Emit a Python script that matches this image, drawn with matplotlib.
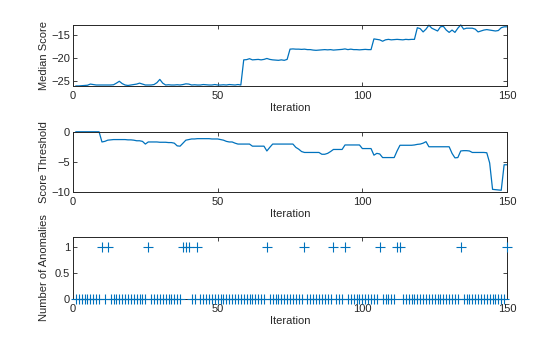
import numpy as np
import matplotlib.pyplot as plt

plt.rcParams["font.family"] = ["Liberation Sans", "DejaVu Sans"]

iterations = np.arange(1, 151)

median_score = [
    -26.0, -26.0, -25.95, -25.9, -25.85, -25.6, -25.7, -25.8, -25.8, -25.8,
    -25.8, -25.8, -25.8, -25.75, -25.4, -25.0, -25.5, -25.8, -25.9, -25.8,
    -25.7, -25.6, -25.4, -25.6, -25.8, -25.8, -25.8, -25.7, -25.3, -24.6,
    -25.4, -25.8, -25.75, -25.8, -25.8, -25.75, -25.8, -25.7, -25.55, -25.6,
    -25.8, -25.75, -25.8, -25.8, -25.7, -25.75, -25.8, -25.8, -25.7, -25.8,
    -25.8, -25.75, -25.8, -25.7, -25.75, -25.8, -25.7, -25.8,
    -20.4, -20.35, -20.15, -20.4, -20.35, -20.3, -20.4, -20.3, -20.1, -20.3,
    -20.4, -20.45, -20.5, -20.4, -20.5, -20.3,
    -18.1, -18.05, -18.1, -18.1, -18.15, -18.1, -18.2, -18.2, -18.3, -18.35,
    -18.3, -18.25, -18.2, -18.25, -18.2, -18.3, -18.25, -18.2, -18.15, -18.05,
    -18.2, -18.1, -18.2, -18.2, -18.25, -18.2, -18.15, -18.2, -18.2,
    -15.9, -16.0, -16.1, -16.4, -16.1, -16.0, -16.1, -16.05, -16.0, -16.05,
    -16.1, -16.0, -16.05, -16.0, -16.0,
    -13.5, -13.7, -14.4, -13.8, -12.95, -13.6, -13.9, -14.2, -13.3, -13.2,
    -14.0, -14.5, -14.0, -14.5, -13.6, -12.9, -13.8, -13.6, -13.6, -13.6,
    -13.8, -14.4, -14.2, -14.0, -13.9, -14.0, -14.1, -14.2, -14.1, -13.5,
    -13.3, -13.3,
]

score_threshold = [
    0, 0, 0, 0, 0, 0, 0, 0, 0,
    -1.7, -1.6, -1.4, -1.35, -1.3, -1.3, -1.3, -1.3, -1.3, -1.35, -1.35,
    -1.4, -1.5, -1.5, -1.6, -2.05, -1.7, -1.7, -1.7, -1.7, -1.75,
    -1.75, -1.75, -1.8, -1.8, -1.9, -2.35, -2.4, -1.9, -1.4, -1.3,
    -1.2, -1.2, -1.15, -1.15, -1.15, -1.15, -1.15, -1.2, -1.2, -1.2,
    -1.3, -1.4, -1.6, -1.7, -1.7, -1.9, -2.05, -2.05, -2.05, -2.05,
    -2.05, -2.4, -2.4, -2.4, -2.4, -2.4, -3.2, -2.6, -2.05, -2.05,
    -2.05, -2.05, -2.05, -2.05, -2.05, -2.05, -2.6, -2.9, -3.3, -3.45,
    -3.45, -3.45, -3.45, -3.45, -3.45, -3.75, -3.75, -3.6, -3.3, -2.95,
    -2.95, -2.95, -2.95, -2.2, -2.2, -2.2, -2.2, -2.2, -2.2, -2.8,
    -2.8, -2.8, -2.8, -3.9, -3.6, -3.7, -4.3, -4.3, -4.3, -4.3,
    -4.3, -3.2, -2.25, -2.25, -2.25, -2.25, -2.25, -2.2, -2.1, -2.05,
    -1.9, -1.65, -2.5, -2.5, -2.5, -2.5, -2.5, -2.5, -2.5, -2.5,
    -3.6, -4.35, -4.3, -3.2, -3.15, -3.15, -3.2, -3.45, -3.45, -3.45,
    -3.45, -3.45, -3.5, -5.2, -9.6, -9.65, -9.7, -9.75, -5.5, -5.5,
]

anomaly_iters = [10, 12, 26, 38, 39, 40, 43, 67, 80, 90, 94, 106, 112, 113, 134, 150]
num_anomalies = np.isin(iterations, anomaly_iters).astype(int)

blue = "#0072BD"
dark = "#262626"

fig = plt.figure(figsize=(5.6, 3.37), dpi=100)
left, width = 0.1304, 0.775
ax1 = fig.add_axes([left, 0.745, width, 0.181])
ax2 = fig.add_axes([left, 0.431, width, 0.178])
ax3 = fig.add_axes([left, 0.114, width, 0.1825])

ax1.plot(iterations, median_score, color=blue, lw=0.9, clip_on=False)
ax1.set_ylim(min(median_score), max(median_score))
ax1.set_yticks([-25, -20, -15])
ax1.set_ylabel("Median Score")

ax2.plot(iterations, score_threshold, color=blue, lw=0.9, clip_on=False)
ax2.set_ylim(-10, 0)
ax2.set_yticks([-10, -5, 0])
ax2.set_ylabel("Score Threshold")

ax3.plot(iterations, num_anomalies, "+", color=blue, ms=6.5, mew=0.8,
         clip_on=False, zorder=3)
ax3.set_ylim(0, 1.2)
ax3.set_yticks([0, 0.5, 1])
ax3.set_yticklabels(["0", "0.5", "1"])
ax3.set_ylabel("Number of Anomalies")

for ax in (ax1, ax2, ax3):
    ax.set_xlim(0, 150)
    ax.set_xticks([0, 50, 100, 150])
    ax.set_xlabel("Iteration", fontsize=8, color=dark, labelpad=1)
    ax.yaxis.label.set_size(8)
    ax.yaxis.label.set_color(dark)
    ax.yaxis.set_label_coords(-0.056, 0.5)
    ax.tick_params(direction="in", top=True, right=True, length=3, width=0.6,
                   labelsize=8, colors=dark)
    ax.tick_params(axis="x", pad=4)
    ax.tick_params(axis="y", pad=2)
    for sp in ax.spines.values():
        sp.set_color(dark)
        sp.set_linewidth(0.7)

fig.savefig("out.png", dpi=100)
